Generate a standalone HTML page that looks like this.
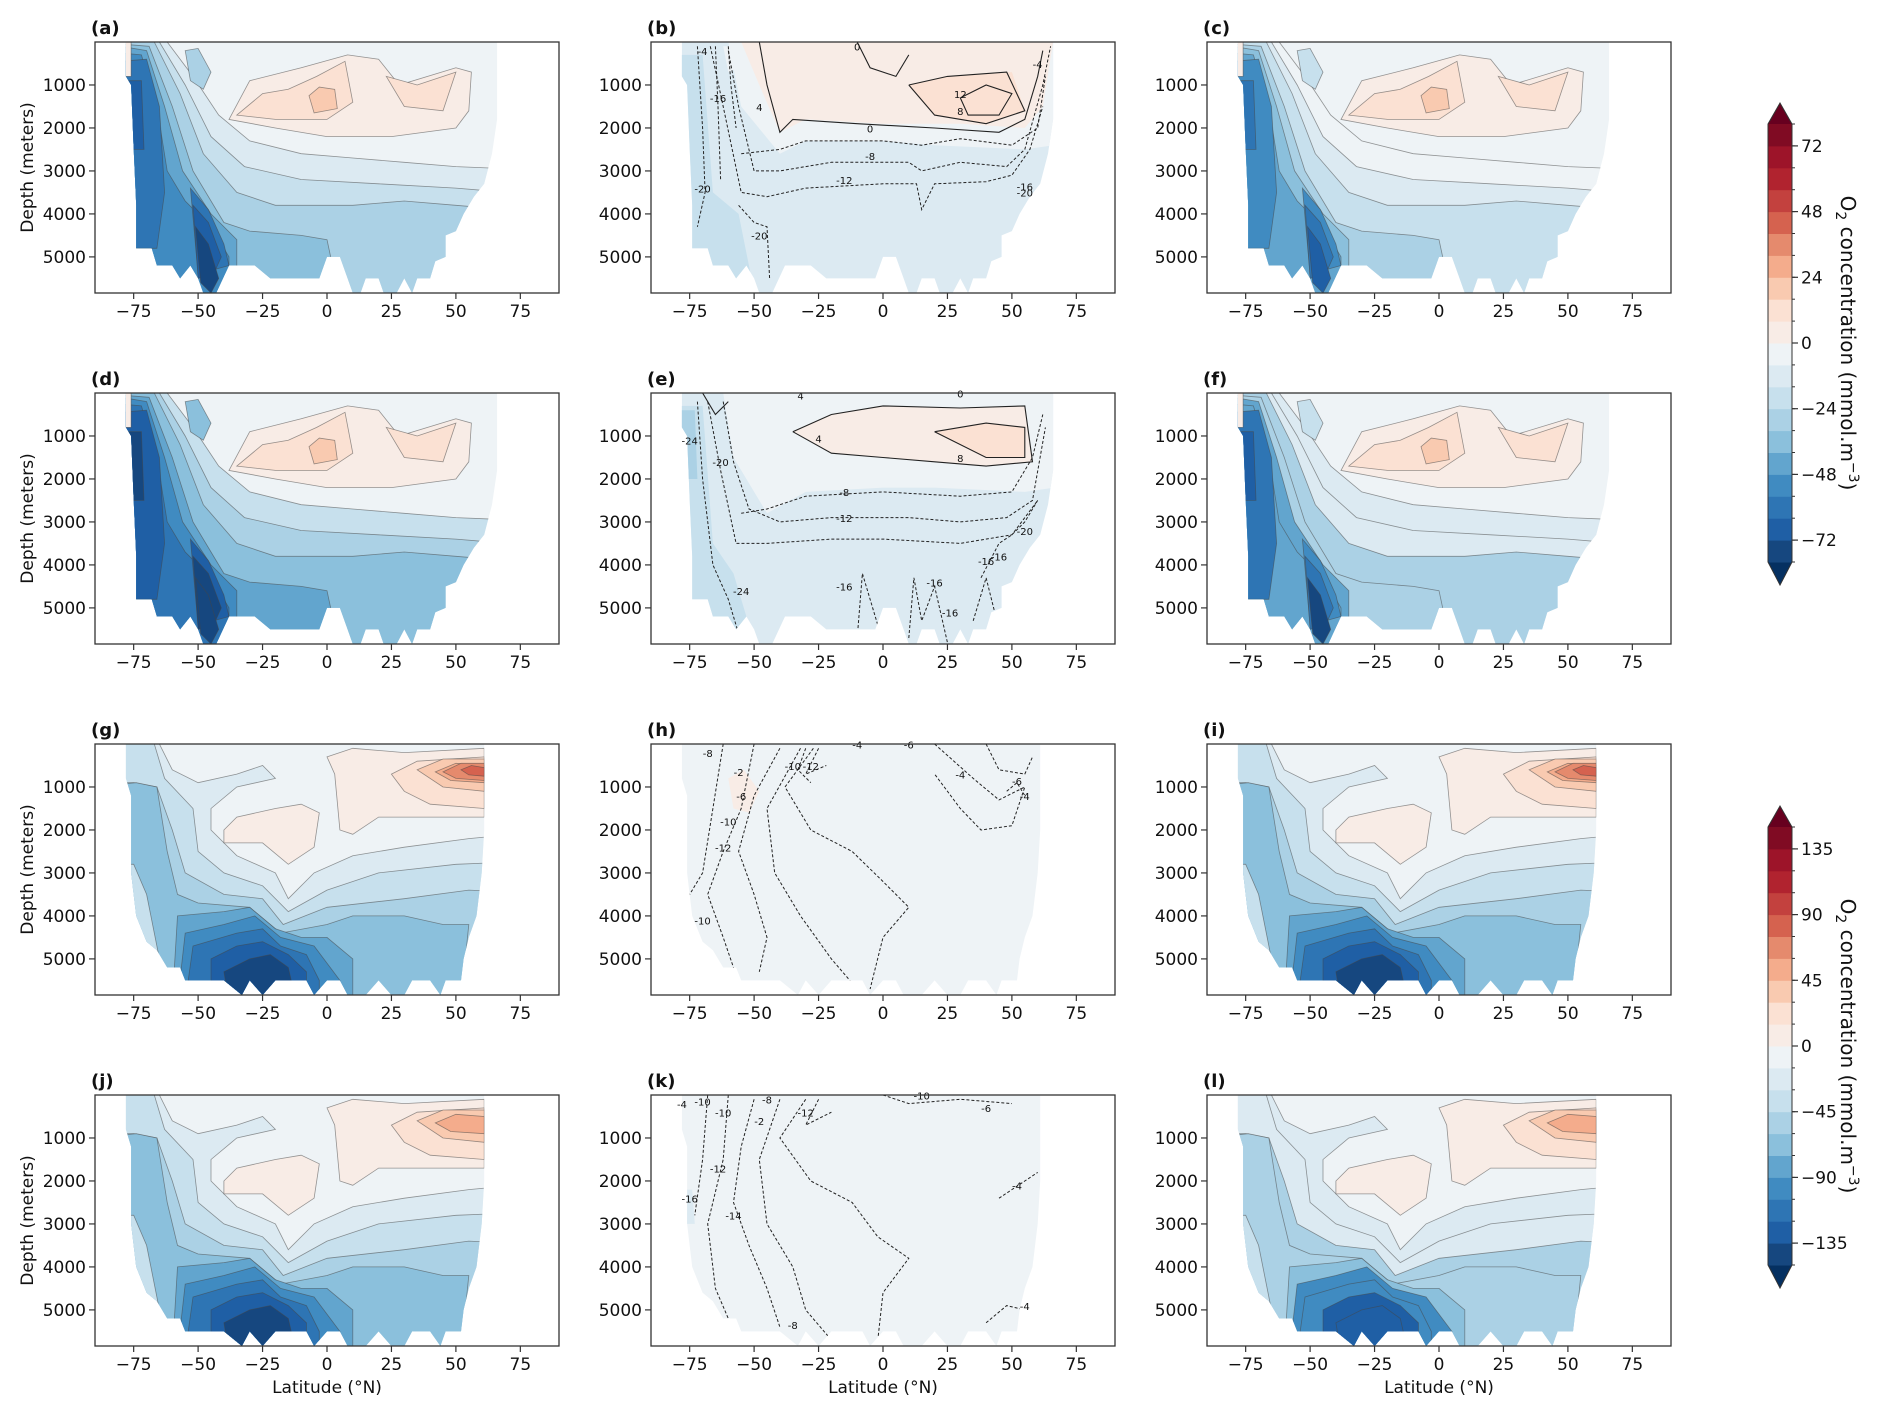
<!DOCTYPE html>
<html><head><meta charset="utf-8">
<style>
html,body{margin:0;padding:0;background:#fff;}
svg{display:block;font-family:"DejaVu Sans","Liberation Sans",sans-serif;}
</style></head>
<body>
<svg id="fig" width="1892" height="1413" viewBox="0 0 1892 1413" xmlns="http://www.w3.org/2000/svg">
<rect width="1892" height="1413" fill="#fff"/>
</svg>
<script>
const NS="http://www.w3.org/2000/svg";
const fig=document.getElementById('fig');
const W=464,H=251,XMIN=-90,XMAX=90,DMAX=5840;
const colX=[95,651,1207], rowY=[42,393,744,1095];
const levelColors=["#16477f","#1f5fa5","#2e75b4","#408bc1","#62a5ce","#8bc0dc","#abd1e5","#c7e0ed","#dceaf2","#eef3f6","#f8ece6","#fbe1d3","#f9cab0","#f4ac8c","#e58a6d","#d5624f","#c3413e","#b1232f","#9d1429","#800b23"];
const latTicks=[-75,-50,-25,0,25,50,75];
const depthTicks=[1000,2000,3000,4000,5000];
const cbTicks1=[72,48,24,0,-24,-48,-72];
const cbTicks2=[135,90,45,0,-45,-90,-135];

const outlineAF=[[-78,0],[66,0],[66,1800],[64,2600],[61,3300],[57,3600],[53,4000],[50,4400],[46,4500],[46,5000],[42,5100],[40,5500],[35,5500],[33,5840],[30,5500],[27,5840],[22,5840],[20,5500],[15,5500],[13,5840],[10,5840],[8,5500],[5,5000],[0,5000],[-3,5500],[-18,5500],[-22,5500],[-28,5200],[-38,5200],[-43,5840],[-48,5840],[-50,5500],[-53,5200],[-57,5500],[-60,5200],[-66,5200],[-68,4800],[-74,4800],[-74,3800],[-75,2500],[-76,1000],[-78,800]];
const outlineGL=[[-78,0],[61,0],[61,2000],[60,3000],[58,4000],[55,4500],[53,5000],[52,5500],[46,5500],[44,5840],[40,5500],[33,5500],[30,5840],[25,5840],[20,5500],[15,5840],[8,5840],[5,5500],[0,5500],[-5,5840],[-8,5500],[-20,5500],[-25,5840],[-30,5500],[-33,5840],[-40,5500],[-55,5500],[-57,5200],[-62,5200],[-66,4800],[-70,4600],[-74,4000],[-76,3000],[-76,1200],[-78,800]];

const layersA=[
[9,[[-90,0],[90,0],[90,6000],[-90,6000]]],
[8,[[-90,0],[-62,0],[-52,800],[-42,1700],[-30,2300],[-10,2600],[10,2700],[30,2800],[50,2900],[90,3000],[90,6000],[-90,6000]]],
[7,[[-90,0],[-65,0],[-55,1000],[-45,2200],[-32,2900],[-10,3200],[20,3300],[50,3400],[90,3600],[90,6000],[-90,6000]]],
[6,[[-90,0],[-67,0],[-57,1200],[-48,2600],[-35,3500],[-20,3800],[10,3800],[30,3700],[50,3800],[90,4000],[90,6000],[-90,6000]]],
[5,[[-90,0],[-69,100],[-60,1500],[-52,3000],[-40,4200],[-30,4400],[-10,4500],[0,4600],[5,6000],[-90,6000]]],
[4,[[-90,0],[-70,200],[-63,1500],[-56,3000],[-45,4000],[-35,4600],[-35,6000],[-90,6000]]],
[3,[[-90,200],[-72,300],[-66,1500],[-62,3000],[-55,3700],[-45,4300],[-38,5000],[-38,6000],[-90,6000]]],
[2,[[-90,500],[-70,400],[-65,1500],[-63,3500],[-66,4800],[-90,4800]]],
[2,[[-53,3400],[-46,3900],[-40,4700],[-38,5200],[-50,5400]]],
[1,[[-80,900],[-72,900],[-71,2500],[-80,2500]]],
[1,[[-52,3800],[-46,4200],[-41,5000],[-44,5400],[-50,5500]]],
[0,[[-51,4300],[-46,4700],[-42,5500],[-45,5840],[-49,5600]]],
[6,[[-55,200],[-50,150],[-45,700],[-48,1100],[-53,900]]],
[10,[[-90,0],[-76,0],[-76,800],[-90,800]]],
[10,[[-38,1800],[-30,900],[-10,600],[8,300],[20,400],[28,1000],[50,600],[56,700],[55,1600],[50,2000],[25,2200],[0,2200],[-20,2000]]],
[11,[[-35,1700],[-25,1200],[-15,1100],[-4,800],[7,450],[10,1400],[0,1800],[-20,1800]]],
[11,[[23,800],[30,1500],[45,1600],[50,700],[35,1000]]],
[12,[[-7,1250],[-3,1050],[3,1100],[4,1550],[-5,1650]]]
];
const layersB=[
[8,[[-90,0],[90,0],[90,6000],[-90,6000]]],
[9,[[-60,0],[90,0],[90,2200],[55,2500],[20,2400],[0,2300],[-30,2300],[-40,2600],[-55,1500]]],
[10,[[-55,0],[66,0],[62,1500],[55,2000],[30,1900],[0,1900],[-30,1800],[-40,2100],[-48,1000]]],
[11,[[10,1000],[25,800],[50,700],[55,1600],[40,1900],[20,1700]]],
[7,[[-90,300],[-70,300],[-66,3500],[-56,4000],[-50,5800],[-90,5800]]],
[9,[[-62,100],[-58,100],[-56,600],[-60,700]]]
];
const layersE=[
[8,[[-90,0],[90,0],[90,6000],[-90,6000]]],
[9,[[-62,0],[90,0],[90,2000],[55,2300],[20,2200],[0,2200],[-30,2300],[-45,2800],[-58,1500]]],
[10,[[-35,900],[-20,500],[0,300],[30,350],[55,300],[58,1600],[40,1700],[20,1600],[0,1500],[-20,1400]]],
[11,[[20,900],[40,700],[55,800],[55,1500],[40,1500]]],
[7,[[-90,300],[-70,300],[-66,3500],[-58,4200],[-50,5800],[-90,5800]]],
[6,[[-90,400],[-73,400],[-72,2000],[-90,2000]]]
];
const layersG=[
[9,[[-90,0],[90,0],[90,6000],[-90,6000]]],
[8,[[-90,0],[-65,0],[-60,600],[-50,900],[-35,700],[-25,500],[-20,800],[-35,1000],[-45,1500],[-45,2000],[-35,2600],[-20,3000],[-15,3600],[-5,3000],[10,2600],[30,2400],[55,2200],[90,2000],[90,6000],[-90,6000]]],
[7,[[-90,0],[-67,0],[-63,800],[-52,1500],[-50,2500],[-40,3000],[-25,3300],[-15,3900],[0,3400],[20,3000],[50,2800],[90,2700],[90,6000],[-90,6000]]],
[6,[[-90,900],[-75,900],[-66,1000],[-60,2000],[-55,3000],[-40,3500],[-25,3600],[-17,4200],[0,3800],[30,3600],[55,3400],[90,3500],[90,6000],[-90,6000]]],
[5,[[-90,1000],[-74,900],[-66,1000],[-62,2500],[-58,3500],[-50,3700],[-30,3800],[-18,4400],[0,4200],[10,4000],[30,4000],[45,4200],[55,4200],[52,6000],[-90,6000]]],
[7,[[-90,2800],[-75,2800],[-70,3500],[-64,5300],[-90,5300]]],
[4,[[-58,4000],[-40,3900],[-30,3800],[-20,4300],[-10,4500],[0,4500],[10,5000],[10,6000],[-60,6000]]],
[3,[[-55,4400],[-40,4200],[-28,4000],[-18,4500],[-5,4700],[5,5500],[5,6000],[-58,6000]]],
[2,[[-52,4700],[-35,4400],[-25,4300],[-18,4700],[-8,4900],[-3,5500],[-3,6000],[-55,6000]]],
[1,[[-45,5000],[-35,4700],[-25,4600],[-15,4900],[-8,5300],[-8,6000],[-45,6000]]],
[0,[[-40,5300],[-30,5000],[-22,4900],[-15,5200],[-12,6000],[-38,6000]]],
[10,[[-40,2000],[-35,1700],[-20,1500],[-10,1400],[-3,1600],[-5,2400],[-15,2800],[-25,2300],[-40,2300]]],
[10,[[0,300],[10,100],[30,200],[61,100],[61,1700],[20,1700],[10,2100],[5,2000],[3,700]]],
[11,[[25,700],[35,400],[61,300],[61,1500],[40,1400],[30,1100]]],
[12,[[35,600],[45,350],[61,350],[61,1100],[45,1000]]],
[13,[[42,650],[50,450],[61,500],[61,900],[48,850]]]
];
const layersGextra=[
[14,[[45,650],[52,450],[61,450],[61,850],[50,800]]],
[15,[[52,600],[56,500],[61,550],[61,750],[55,720]]]
];
const layersH=[
[9,[[-90,0],[90,0],[90,6000],[-90,6000]]],
[10,[[-60,800],[-54,600],[-48,1100],[-52,1600],[-58,1500]]]
];
const layersK=[
[9,[[-90,0],[90,0],[90,6000],[-90,6000]]],
[8,[[-90,2200],[-74,2200],[-73,3000],[-90,3000]]]
];

const linesB=[
[[-55,2600],[-40,2500],[-30,2300],[0,2300],[15,2400],[30,2250],[50,2400],[60,2000],[63,800]],
[[-60,200],[-56,1500],[-50,3000],[-40,3000],[-20,2800],[10,2800],[15,3000],[30,2800],[48,2900],[55,2500],[62,1000],[65,100]],
[[-67,100],[-62,1500],[-55,3500],[-45,3600],[-30,3400],[0,3300],[13,3300],[15,3900],[20,3300],[40,3250],[50,3100],[57,2500],[62,1500]],
[[-72,100],[-70,2000],[-69,3500],[-72,4300]],
[[-56,3800],[-50,4200],[-45,4300],[-44,5500]],
[[-65,100],[-64,1500],[-63,3200]],[[-60,100],[-59,1000],[-57,2000]]
];
const solidB=[
[[-48,0],[-45,1000],[-40,2100],[-35,1800],[-10,1900],[20,2000],[45,2100],[55,1800],[60,800],[62,200]],
[[10,1000],[25,800],[48,700],[55,1600],[40,1900],[20,1700],[10,1000]],
[[30,1300],[40,1000],[50,1200],[45,1700],[33,1700],[30,1300]],
[[-10,0],[-5,600],[5,800],[10,300]]
];
const labelsB=[[-70,300,"-4"],[-64,1400,"-16"],[-48,1600,"4"],[-5,2100,"0"],[-5,2750,"-8"],[-15,3300,"-12"],[-70,3500,"-20"],[-48,4600,"-20"],[30,1300,"12"],[30,1700,"8"],[55,3450,"-16"],[55,3600,"-20"],[60,600,"-4"],[-10,200,"0"]];
const linesE=[
[[-55,2800],[-45,2700],[-30,2400],[0,2300],[30,2400],[50,2300],[58,1500],[62,500]],
[[-62,200],[-58,1600],[-52,2700],[-40,3000],[-20,2900],[10,2900],[30,3000],[48,2900],[58,2500],[63,800]],
[[-68,200],[-63,1800],[-57,3500],[-45,3500],[-20,3400],[0,3400],[30,3500],[50,3300],[60,2500]],
[[-72,200],[-70,2000],[-66,4000],[-60,4800],[-55,5800]],
[[-10,5700],[-8,4200],[-2,5400]],[[10,5700],[12,4300],[15,5300],[20,4500],[25,5800]],
[[38,4300],[45,3500],[50,3300],[55,3000],[60,2500]],[[35,5300],[40,4300],[45,5500]]
];
const solidE=[
[[-35,900],[-20,500],[0,300],[30,350],[55,300],[58,1600],[40,1700],[20,1600],[0,1500],[-20,1400],[-35,900]],
[[20,900],[40,700],[55,800],[55,1500],[40,1500],[20,900]],
[[-70,0],[-65,500],[-60,200]]
];
const labelsE=[[-75,1200,"-24"],[-63,1700,"-20"],[-25,1150,"4"],[30,1600,"8"],[-15,2400,"-8"],[-15,3000,"-12"],[-55,4700,"-24"],[-15,4600,"-16"],[20,4500,"-16"],[40,4000,"-16"],[45,3900,"-16"],[55,3300,"-20"],[26,5200,"-16"],[30,100,"0"],[-32,150,"4"]];
const linesH=[
[[-62,0],[-66,1500],[-70,3000],[-75,3500]],
[[-50,0],[-55,1500],[-62,2500],[-68,3500],[-62,4500],[-58,5200]],
[[-40,100],[-50,1200],[-56,2500],[-50,3500],[-45,4500],[-48,5300]],
[[-32,100],[-45,1500],[-42,3000],[-32,4000],[-20,5000],[-10,5700]],
[[-27,100],[-38,1000],[-28,2000],[-12,2500],[0,3200],[10,3800],[0,4500],[-5,5700]],
[[-30,100],[-33,600],[-28,900]],[[-25,100],[-30,700],[-22,500]],
[[20,0],[35,800],[45,1300],[55,1000],[50,1900],[38,2000],[30,1500],[20,700]],
[[40,0],[45,600],[55,700],[58,300]],[[48,1100],[52,900],[55,1200]]
];
const labelsH=[[-68,300,"-8"],[-56,750,"-2"],[-55,1300,"-6"],[-35,600,"-10"],[-28,600,"-12"],[-60,1900,"-10"],[-62,2500,"-12"],[-70,4200,"-10"],[-10,100,"-4"],[10,100,"-6"],[30,800,"-4"],[52,950,"-6"],[55,1300,"-4"]];
const linesK=[
[[-68,0],[-70,1500],[-73,2800]],
[[-60,0],[-62,1500],[-68,3000],[-65,4500],[-60,5200]],
[[-50,100],[-55,1200],[-58,2500],[-52,3500],[-45,4500],[-40,5400]],
[[-40,100],[-48,1500],[-45,3000],[-35,4000],[-30,5000],[-20,5700]],
[[-30,100],[-40,1000],[-28,2000],[-12,2500],[-2,3300],[10,3800],[0,4600],[-2,5700]],
[[-25,100],[-30,700],[-20,400]],
[[40,5300],[48,4900],[55,5000],[58,4700]],[[45,2400],[55,2000],[60,1800]],
[[0,0],[10,200],[30,100],[50,200]]
];
const labelsK=[[-78,300,"-4"],[-70,250,"-10"],[-62,500,"-10"],[-48,700,"-2"],[-30,500,"-12"],[-45,200,"-8"],[-64,1800,"-12"],[-75,2500,"-16"],[-58,2900,"-14"],[52,2200,"-4"],[55,5000,"-4"],[-35,5450,"-8"],[15,100,"-10"],[40,400,"-6"]];

const panels=[
{id:'a',col:0,row:0,outline:outlineAF,layers:layersA,shift:0,cont:false},
{id:'b',col:1,row:0,outline:outlineAF,layers:layersB,shift:0,cont:true,lines:linesB,solid:solidB,labels:labelsB},
{id:'c',col:2,row:0,outline:outlineAF,layers:layersA,shift:1,cont:false},
{id:'d',col:0,row:1,outline:outlineAF,layers:layersA,shift:-1,cont:false},
{id:'e',col:1,row:1,outline:outlineAF,layers:layersE,shift:0,cont:true,lines:linesE,solid:solidE,labels:labelsE},
{id:'f',col:2,row:1,outline:outlineAF,layers:layersA,shift:0.5,cont:false},
{id:'g',col:0,row:2,outline:outlineGL,layers:layersG.concat(layersGextra),shift:0,cont:false},
{id:'h',col:1,row:2,outline:outlineGL,layers:layersH,shift:0,cont:true,lines:linesH,solid:[],labels:labelsH},
{id:'i',col:2,row:2,outline:outlineGL,layers:layersG.concat(layersGextra),shift:0,cont:false},
{id:'j',col:0,row:3,outline:outlineGL,layers:layersG,shift:0,cont:false},
{id:'k',col:1,row:3,outline:outlineGL,layers:layersK,shift:0,cont:true,lines:linesK,solid:[],labels:labelsK},
{id:'l',col:2,row:3,outline:outlineGL,layers:layersG,shift:0.5,cont:false}
];

function mk(tag,attrs,parent){const e=document.createElementNS(NS,tag);for(const k in attrs)e.setAttribute(k,attrs[k]);(parent||fig).appendChild(e);return e;}
function xScale(x0,lat){return x0+(lat-XMIN)/(XMAX-XMIN)*W;}
function yScale(y0,d){return y0+d/DMAX*H;}
function ptsStr(x0,y0,pts){return pts.map(p=>xScale(x0,p[0]).toFixed(1)+','+yScale(y0,p[1]).toFixed(1)).join(' ');}
function shiftLevel(l,s){if(l>=9||s===0)return l; if(s===0.5) return l; let n=l+s; return Math.max(0,Math.min(9,n));}

panels.forEach(p=>{
  const x0=colX[p.col], y0=rowY[p.row];
  const g=mk('g',{});
  
  
  const cp=mk('clipPath',{id:'clip-'+p.id},g);
  mk('polygon',{points:ptsStr(x0,y0,p.outline)},cp);
  const cg=mk('g',{'clip-path':'url(#clip-'+p.id+')'},g);
  
  
  p.layers.forEach((L,i)=>{
    let lvl=shiftLevel(L[0],p.shift);
    if(p.shift===0.5 && L[0]<9 && i%2===0) lvl=Math.min(9,L[0]+1);
    const poly=mk('polygon',{points:ptsStr(x0,y0,L[1]),fill:levelColors[lvl],stroke:p.cont?'none':'rgba(70,70,70,0.55)','stroke-width':0.8},cg);
    
    
  });
  if(p.cont){
    (p.lines||[]).forEach(l=>{
      const e=mk('polyline',{points:ptsStr(x0,y0,l),fill:'none',stroke:'#222','stroke-width':1,'stroke-dasharray':'3,2'},cg);
      
      
    });
    (p.solid||[]).forEach(l=>{
      const e=mk('polyline',{points:ptsStr(x0,y0,l),fill:'none',stroke:'#222','stroke-width':1.1},cg);
      
      
    });
    (p.labels||[]).forEach(t=>{
      const e=mk('text',{x:xScale(x0,t[0]),y:yScale(y0,t[1]),'font-size':10,'text-anchor':'middle',fill:'#111'},g);
      e.textContent=t[2];
      
      
    });
  }
  const fr=mk('rect',{x:x0,y:y0,width:W,height:H,fill:'none',stroke:'#333','stroke-width':1.3},g);
  
  
  latTicks.forEach(t=>{
    const x=xScale(x0,t);
    const tk=mk('line',{x1:x,x2:x,y1:y0+H,y2:y0+H+6,stroke:'#333','stroke-width':1.2},g);
    
    
    const lb=mk('text',{x:x,y:y0+H+24,'font-size':17,'text-anchor':'middle',fill:'#111'},g);
    lb.textContent=t<0?'\u2212'+Math.abs(t):String(t);
    
    
  });
  depthTicks.forEach(t=>{
    const y=yScale(y0,t);
    const tk=mk('line',{x1:x0-6,x2:x0,y1:y,y2:y,stroke:'#333','stroke-width':1.2},g);
    
    
    const lb=mk('text',{x:x0-9,y:y+6,'font-size':17,'text-anchor':'end',fill:'#111'},g);
    lb.textContent=String(t);
    
    
  });
  const tl=mk('text',{x:x0-4,y:y0-8,'font-size':18,'font-weight':'bold',fill:'#111'},g);
  tl.textContent='('+p.id+')';
  
  
  if(p.col===0){
    const yl=mk('text',{x:0,y:0,'font-size':17,'text-anchor':'middle',fill:'#111',transform:'translate(33,'+(y0+H/2)+') rotate(-90)'},g);
    yl.textContent='Depth (meters)';
    
    
  }
  if(p.row===3){
    const xl=mk('text',{x:x0+W/2,y:y0+H+47,'font-size':17,'text-anchor':'middle',fill:'#111'},g);
    xl.textContent='Latitude (\u00b0N)';
    
    
  }
});

function colorbar(top,ticks,step,name){
  const cx=1768,cw=24,bh=21.9,n=20,rectTop=top+21,rectH=bh*n;
  const g=mk('g',{});
  
  
  mk('polygon',{points:`${cx},${rectTop} ${cx+cw/2},${top} ${cx+cw},${rectTop}`,fill:'#67001f'},g);
  mk('polygon',{points:`${cx},${rectTop+rectH} ${cx+cw/2},${rectTop+rectH+23} ${cx+cw},${rectTop+rectH}`,fill:'#053061'},g);
  for(let i=0;i<n;i++){
    const r=mk('rect',{x:cx,y:rectTop+(n-1-i)*bh,width:cw,height:bh+0.5,fill:levelColors[i]},g);
    
    
  }
  mk('polygon',{points:`${cx},${rectTop} ${cx+cw/2},${top} ${cx+cw},${rectTop} ${cx+cw},${rectTop+rectH} ${cx+cw/2},${rectTop+rectH+23} ${cx},${rectTop+rectH}`,fill:'none',stroke:'#333','stroke-width':1},g);
  for(let i=0;i<=n;i++){mk('line',{x1:cx+cw,x2:cx+cw+3,y1:rectTop+i*bh,y2:rectTop+i*bh,stroke:'#333','stroke-width':1},g);}
  const vmax=step*10;
  ticks.forEach(t=>{
    const y=rectTop+(vmax-t)/(2*vmax)*rectH;
    mk('line',{x1:cx+cw,x2:cx+cw+6,y1:y,y2:y,stroke:'#333','stroke-width':1.2},g);
    const lb=mk('text',{x:cx+cw+9,y:y+6,'font-size':17,fill:'#111'},g);
    lb.textContent=t<0?'\u2212'+Math.abs(t):String(t);
    
    
  });
  const cy=rectTop+rectH/2;
  const tx=mk('text',{x:0,y:0,'font-size':20,'text-anchor':'middle',fill:'#111',transform:`translate(1841,${cy}) rotate(90)`},g);
  tx.innerHTML='O<tspan font-size="14" dy="5">2</tspan><tspan dy="-5"> concentration (mmol.m</tspan><tspan font-size="14" dy="-8">\u22123</tspan><tspan dy="8">)</tspan>';
  
  
}
colorbar(103,cbTicks1,8,'colorbar-top');
colorbar(806,cbTicks2,15,'colorbar-bottom');
</script>
</body></html>
